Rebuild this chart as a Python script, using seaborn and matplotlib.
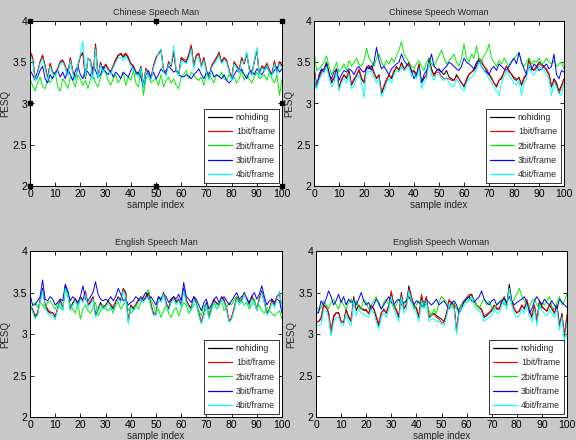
import numpy as np
import pandas as pd
import matplotlib
matplotlib.use("Agg")
import matplotlib.pyplot as plt
import seaborn as sns

sample_index = list(range(0, 101))
series_names = ["nohiding", "1bit/frame", "2bit/frame", "3bit/frame", "4bit/frame"]
panel_titles = ["Chinese Speech Man", "Chinese Speech Woman", "English Speech Man", "English Speech Woman"]
x_ticks = [0, 10, 20, 30, 40, 50, 60, 70, 80, 90, 100]
y_ticks = [2, 2.5, 3, 3.5, 4]
y_tick_labels = ["2", "2.5", "3", "3.5", "4"]

# ---- Chinese Speech Man ----
cm_nohiding = [3.63,3.55,3.30,3.38,3.50,3.58,3.45,3.30,3.48,3.38,
    3.35,3.42,3.50,3.52,3.45,3.35,3.55,3.38,3.30,3.45,
    3.58,3.62,3.30,3.55,3.52,3.30,3.72,3.32,3.50,3.40,
    3.47,3.42,3.38,3.45,3.52,3.58,3.60,3.56,3.60,3.55,
    3.48,3.45,3.38,3.35,3.45,3.22,3.42,3.35,3.30,3.45,
    3.55,3.60,3.65,3.40,3.35,3.50,3.45,3.62,3.40,3.35,
    3.55,3.52,3.50,3.58,3.70,3.45,3.58,3.60,3.45,3.55,
    3.40,3.30,3.45,3.50,3.55,3.62,3.50,3.55,3.52,3.40,
    3.30,3.50,3.45,3.40,3.55,3.48,3.60,3.42,3.35,3.50,
    3.65,3.35,3.45,3.42,3.48,3.40,3.35,3.50,3.38,3.50,3.45]
cm_1bit = [3.64,3.57,3.31,3.38,3.51,3.59,3.46,3.31,3.49,3.37,
    3.36,3.43,3.51,3.53,3.46,3.35,3.56,3.39,3.31,3.46,
    3.57,3.60,3.31,3.54,3.53,3.31,3.70,3.33,3.49,3.41,
    3.48,3.43,3.37,3.46,3.54,3.59,3.61,3.58,3.61,3.57,
    3.49,3.46,3.39,3.36,3.44,3.21,3.43,3.36,3.31,3.46,
    3.56,3.61,3.64,3.41,3.36,3.51,3.46,3.63,3.41,3.36,
    3.56,3.54,3.52,3.60,3.71,3.46,3.59,3.61,3.46,3.56,
    3.41,3.31,3.46,3.51,3.56,3.61,3.51,3.56,3.53,3.41,
    3.31,3.51,3.46,3.41,3.56,3.49,3.61,3.43,3.36,3.51,
    3.64,3.36,3.46,3.43,3.49,3.41,3.36,3.52,3.39,3.51,3.46]
cm_2bit = [3.30,3.22,3.15,3.25,3.32,3.20,3.18,3.30,3.25,3.32,
    3.38,3.20,3.15,3.30,3.25,3.18,3.32,3.28,3.20,3.35,
    3.30,3.22,3.28,3.18,3.30,3.35,3.25,3.20,3.32,3.40,
    3.38,3.28,3.22,3.30,3.35,3.25,3.30,3.38,3.22,3.32,
    3.28,3.40,3.25,3.20,3.42,3.10,3.30,3.35,3.25,3.28,
    3.30,3.22,3.35,3.20,3.28,3.32,3.25,3.30,3.22,3.18,
    3.32,3.35,3.40,3.30,3.38,3.35,3.30,3.28,3.32,3.22,
    3.35,3.38,3.30,3.25,3.35,3.32,3.38,3.30,3.28,3.35,
    3.30,3.32,3.25,3.30,3.40,3.28,3.35,3.30,3.25,3.32,
    3.38,3.30,3.32,3.35,3.28,3.38,3.30,3.25,3.35,3.10,3.30]
cm_3bit = [3.40,3.35,3.28,3.32,3.40,3.45,3.30,3.25,3.35,3.30,
    3.38,3.40,3.32,3.38,3.30,3.42,3.35,3.28,3.40,3.45,
    3.35,3.30,3.42,3.38,3.33,3.45,3.40,3.32,3.35,3.45,
    3.38,3.35,3.40,3.32,3.38,3.35,3.30,3.38,3.35,3.32,
    3.40,3.45,3.35,3.38,3.32,3.20,3.35,3.40,3.32,3.38,
    3.30,3.35,3.42,3.38,3.40,3.45,3.42,3.38,3.40,3.35,
    3.33,3.32,3.35,3.33,3.30,3.35,3.38,3.42,3.35,3.30,
    3.38,3.35,3.40,3.32,3.35,3.33,3.30,3.35,3.28,3.25,
    3.28,3.35,3.40,3.38,3.42,3.35,3.30,3.38,3.40,3.35,
    3.42,3.38,3.35,3.40,3.45,3.38,3.35,3.40,3.45,3.38,3.42]
cm_4bit = [3.60,3.52,3.28,3.36,3.48,3.55,3.42,3.28,3.45,3.36,
    3.33,3.40,3.48,3.50,3.43,3.33,3.52,3.36,3.28,3.48,
    3.60,3.76,3.32,3.56,3.50,3.28,3.66,3.30,3.47,3.38,
    3.44,3.40,3.35,3.43,3.50,3.55,3.56,3.52,3.57,3.52,
    3.45,3.42,3.36,3.33,3.43,3.20,3.40,3.33,3.28,3.43,
    3.52,3.62,3.66,3.38,3.33,3.48,3.47,3.70,3.42,3.33,
    3.52,3.50,3.48,3.55,3.66,3.42,3.55,3.56,3.43,3.52,
    3.38,3.28,3.43,3.48,3.52,3.58,3.48,3.52,3.50,3.38,
    3.28,3.48,3.43,3.38,3.52,3.50,3.63,3.40,3.33,3.52,
    3.68,3.33,3.43,3.40,3.46,3.38,3.33,3.48,3.36,3.48,3.43]

# ---- Chinese Speech Woman ----
cw_nohiding = [3.45,3.22,3.32,3.40,3.42,3.50,3.38,3.25,3.30,3.42,
    3.20,3.28,3.35,3.30,3.40,3.22,3.28,3.35,3.40,3.30,
    3.25,3.45,3.42,3.46,3.38,3.30,3.35,3.12,3.20,3.28,
    3.35,3.30,3.38,3.45,3.40,3.50,3.42,3.45,3.50,3.38,
    3.40,3.35,3.48,3.25,3.30,3.35,3.55,3.42,3.35,3.40,
    3.42,3.38,3.35,3.40,3.32,3.30,3.28,3.35,3.30,3.25,
    3.20,3.28,3.35,3.38,3.40,3.45,3.55,3.50,3.45,3.40,
    3.35,3.30,3.25,3.20,3.28,3.30,3.38,3.45,3.40,3.35,
    3.30,3.28,3.32,3.22,3.30,3.35,3.55,3.42,3.40,3.45,
    3.50,3.48,3.45,3.40,3.35,3.20,3.30,3.25,3.15,3.22,3.30]
cw_1bit = [3.42,3.24,3.30,3.38,3.42,3.48,3.36,3.27,3.32,3.40,
    3.18,3.30,3.33,3.32,3.38,3.24,3.30,3.33,3.42,3.32,
    3.26,3.45,3.46,3.44,3.36,3.32,3.33,3.14,3.22,3.30,
    3.33,3.32,3.40,3.43,3.42,3.48,3.40,3.47,3.48,3.40,
    3.38,3.33,3.46,3.27,3.32,3.33,3.52,3.40,3.33,3.38,
    3.38,3.33,3.30,3.30,3.30,3.28,3.28,3.33,3.30,3.24,
    3.22,3.30,3.36,3.38,3.42,3.48,3.55,3.52,3.45,3.42,
    3.36,3.32,3.24,3.22,3.28,3.32,3.38,3.46,3.38,3.36,
    3.32,3.30,3.30,3.24,3.32,3.36,3.52,3.44,3.40,3.43,
    3.48,3.46,3.44,3.42,3.36,3.22,3.28,3.22,3.12,3.20,3.30]
cw_2bit = [3.65,3.40,3.42,3.45,3.50,3.58,3.45,3.35,3.42,3.50,
    3.38,3.42,3.48,3.40,3.52,3.45,3.50,3.55,3.48,3.45,
    3.52,3.67,3.55,3.50,3.45,3.55,3.60,3.50,3.45,3.52,
    3.48,3.55,3.50,3.58,3.65,3.75,3.60,3.55,3.50,3.45,
    3.42,3.48,3.52,3.45,3.40,3.50,3.55,3.48,3.45,3.52,
    3.58,3.65,3.55,3.48,3.52,3.55,3.60,3.50,3.45,3.55,
    3.72,3.55,3.50,3.60,3.55,3.70,3.55,3.50,3.58,3.62,
    3.72,3.55,3.50,3.45,3.52,3.48,3.55,3.50,3.45,3.52,
    3.55,3.58,3.62,3.50,3.45,3.50,3.55,3.48,3.52,3.50,
    3.55,3.48,3.50,3.55,3.50,3.48,3.52,3.45,3.48,3.50,3.42]
cw_3bit = [3.30,3.18,3.35,3.42,3.38,3.48,3.35,3.30,3.38,3.42,
    3.28,3.35,3.40,3.38,3.42,3.40,3.35,3.42,3.45,3.40,
    3.38,3.42,3.45,3.40,3.50,3.68,3.52,3.42,3.45,3.40,
    3.35,3.42,3.45,3.48,3.50,3.60,3.52,3.48,3.45,3.40,
    3.30,3.35,3.42,3.25,3.35,3.40,3.48,3.60,3.45,3.42,
    3.40,3.38,3.42,3.45,3.50,3.48,3.45,3.42,3.40,3.45,
    3.55,3.50,3.48,3.45,3.42,3.50,3.52,3.45,3.40,3.38,
    3.35,3.42,3.45,3.40,3.48,3.45,3.42,3.40,3.45,3.50,
    3.55,3.48,3.62,3.50,3.42,3.35,3.45,3.40,3.48,3.45,
    3.40,3.42,3.45,3.48,3.42,3.45,3.60,3.35,3.30,3.40,3.38]
cw_4bit = [3.40,3.18,3.28,3.35,3.38,3.45,3.32,3.20,3.25,3.38,
    3.15,3.25,3.30,3.25,3.35,3.18,3.22,3.30,3.35,3.25,
    3.07,3.40,3.38,3.40,3.32,3.25,3.30,3.08,3.15,3.25,
    3.30,3.25,3.35,3.40,3.38,3.45,3.40,3.42,3.45,3.32,
    3.35,3.30,3.42,3.18,3.25,3.30,3.50,3.35,3.28,3.35,
    3.35,3.30,3.28,3.32,3.25,3.22,3.20,3.30,3.25,3.18,
    3.15,3.25,3.30,3.32,3.35,3.42,3.50,3.45,3.40,3.35,
    3.30,3.25,3.20,3.15,3.10,3.25,3.32,3.40,3.35,3.30,
    3.25,3.22,3.28,3.10,3.25,3.30,3.48,3.38,3.35,3.40,
    3.45,3.42,3.40,3.35,3.30,3.10,3.25,3.20,3.12,3.10,3.25]

# ---- English Speech Man ----
em_nohiding = [3.35,3.30,3.22,3.25,3.40,3.55,3.35,3.28,3.25,3.26,
    3.20,3.32,3.40,3.30,3.58,3.50,3.30,3.38,3.42,3.35,
    3.45,3.40,3.50,3.35,3.38,3.45,3.22,3.30,3.38,3.32,
    3.35,3.40,3.35,3.30,3.38,3.45,3.40,3.55,3.50,3.15,
    3.35,3.30,3.35,3.40,3.45,3.40,3.45,3.50,3.35,3.25,
    3.25,3.45,3.40,3.50,3.38,3.30,3.40,3.45,3.38,3.42,
    3.35,3.55,3.40,3.35,3.30,3.45,3.38,3.25,3.13,3.25,
    3.38,3.20,3.30,3.40,3.38,3.35,3.45,3.40,3.30,3.15,
    3.20,3.30,3.45,3.38,3.40,3.50,3.42,3.35,3.45,3.40,
    3.30,3.42,3.52,3.40,3.25,3.30,3.40,3.35,3.45,3.50,3.30]
em_1bit = [3.34,3.28,3.20,3.24,3.42,3.53,3.36,3.30,3.27,3.25,
    3.22,3.30,3.42,3.31,3.57,3.48,3.32,3.36,3.43,3.34,
    3.44,3.42,3.52,3.36,3.40,3.44,3.24,3.28,3.36,3.34,
    3.34,3.38,3.36,3.32,3.40,3.44,3.42,3.54,3.48,3.17,
    3.34,3.32,3.36,3.42,3.44,3.42,3.44,3.48,3.36,3.24,
    3.24,3.44,3.42,3.48,3.36,3.32,3.42,3.44,3.40,3.40,
    3.36,3.53,3.42,3.34,3.32,3.44,3.36,3.24,3.15,3.24,
    3.36,3.22,3.32,3.42,3.36,3.36,3.44,3.42,3.32,3.16,
    3.20,3.32,3.44,3.40,3.42,3.48,3.44,3.36,3.46,3.38,
    3.28,3.44,3.50,3.38,3.26,3.30,3.42,3.36,3.46,3.48,3.32]
em_2bit = [3.28,3.35,3.38,3.32,3.38,3.35,3.30,3.38,3.40,3.35,
    3.30,3.38,3.32,3.28,3.55,3.45,3.35,3.30,3.25,3.38,
    3.18,3.30,3.35,3.28,3.25,3.32,3.38,3.22,3.28,3.35,
    3.30,3.28,3.32,3.25,3.35,3.38,3.30,3.35,3.40,3.30,
    3.25,3.28,3.35,3.30,3.38,3.45,3.50,3.53,3.40,3.35,
    3.25,3.30,3.20,3.28,3.35,3.25,3.20,3.28,3.32,3.22,
    3.30,3.38,3.35,3.25,3.30,3.35,3.38,3.28,3.22,3.35,
    3.30,3.25,3.32,3.38,3.30,3.35,3.40,3.28,3.32,3.38,
    3.35,3.42,3.45,3.38,3.40,3.35,3.38,3.30,3.35,3.42,
    3.30,3.35,3.28,3.25,3.32,3.28,3.25,3.22,3.25,3.28,3.18]
em_3bit = [3.48,3.35,3.35,3.40,3.45,3.65,3.42,3.40,3.45,3.42,
    3.35,3.38,3.42,3.40,3.60,3.52,3.40,3.45,3.42,3.38,
    3.45,3.58,3.42,3.40,3.45,3.50,3.63,3.48,3.42,3.40,
    3.42,3.40,3.45,3.40,3.45,3.55,3.48,3.40,3.42,3.35,
    3.38,3.40,3.45,3.42,3.40,3.45,3.50,3.42,3.45,3.40,
    3.35,3.45,3.42,3.48,3.45,3.38,3.42,3.45,3.42,3.48,
    3.40,3.62,3.45,3.42,3.38,3.45,3.42,3.35,3.28,3.38,
    3.42,3.30,3.35,3.42,3.45,3.38,3.42,3.45,3.40,3.35,
    3.40,3.45,3.50,3.42,3.45,3.48,3.42,3.38,3.45,3.50,
    3.42,3.48,3.58,3.45,3.35,3.40,3.42,3.38,3.42,3.40,3.25]
em_4bit = [3.32,3.28,3.18,3.22,3.38,3.52,3.32,3.25,3.22,3.22,
    3.17,3.30,3.38,3.28,3.55,3.48,3.28,3.35,3.40,3.32,
    3.42,3.38,3.48,3.32,3.35,3.42,3.20,3.28,3.35,3.30,
    3.32,3.38,3.32,3.28,3.35,3.42,3.38,3.52,3.45,3.12,
    3.32,3.28,3.32,3.38,3.42,3.38,3.42,3.45,3.32,3.22,
    3.22,3.42,3.38,3.48,3.35,3.28,3.38,3.42,3.35,3.40,
    3.32,3.52,3.38,3.32,3.28,3.42,3.35,3.22,3.12,3.22,
    3.35,3.18,3.28,3.38,3.35,3.32,3.42,3.38,3.28,3.14,
    3.18,3.28,3.42,3.35,3.38,3.48,3.40,3.32,3.42,3.38,
    3.28,3.40,3.50,3.38,3.22,3.28,3.38,3.32,3.42,3.52,3.30]

# ---- English Speech Woman ----
ew_nohiding = [3.15,3.15,3.18,3.35,3.33,3.25,3.00,3.20,3.25,3.26,
    3.15,3.14,3.30,3.20,3.15,3.45,3.28,3.35,3.30,3.30,
    3.28,3.25,3.35,3.30,3.20,3.10,3.25,3.30,3.25,3.35,
    3.50,3.35,3.28,3.20,3.50,3.30,3.35,3.58,3.45,3.35,
    3.30,3.20,3.45,3.35,3.45,3.20,3.22,3.25,3.22,3.20,
    3.18,3.15,3.25,3.40,3.38,3.35,3.02,3.30,3.35,3.38,
    3.42,3.45,3.48,3.40,3.35,3.32,3.30,3.20,3.22,3.25,
    3.28,3.35,3.30,3.30,3.38,3.45,3.35,3.60,3.40,3.30,
    3.25,3.28,3.35,3.30,3.40,3.28,3.20,3.35,3.15,3.40,
    3.32,3.30,3.28,3.35,3.30,3.25,3.35,3.10,3.25,2.95,3.20]
ew_1bit = [3.14,3.15,3.20,3.34,3.32,3.27,3.05,3.22,3.26,3.25,
    3.16,3.13,3.28,3.22,3.17,3.42,3.30,3.34,3.31,3.28,
    3.30,3.24,3.34,3.31,3.22,3.12,3.26,3.28,3.27,3.33,
    3.52,3.34,3.30,3.22,3.48,3.31,3.36,3.55,3.44,3.34,
    3.32,3.22,3.48,3.34,3.44,3.22,3.24,3.24,3.20,3.18,
    3.14,3.13,3.24,3.42,3.36,3.34,3.05,3.28,3.36,3.40,
    3.44,3.48,3.46,3.40,3.34,3.33,3.28,3.22,3.24,3.26,
    3.30,3.34,3.32,3.30,3.40,3.44,3.36,3.55,3.38,3.30,
    3.26,3.27,3.34,3.31,3.42,3.30,3.22,3.34,3.17,3.38,
    3.34,3.30,3.27,3.36,3.32,3.26,3.34,3.12,3.22,3.00,3.24]
ew_2bit = [3.35,3.28,3.32,3.40,3.35,3.30,3.38,3.42,3.35,3.30,
    3.40,3.35,3.30,3.38,3.42,3.35,3.40,3.32,3.30,3.42,
    3.38,3.30,3.35,3.40,3.45,3.35,3.30,3.38,3.42,3.35,
    3.40,3.30,3.35,3.42,3.38,3.35,3.40,3.45,3.38,3.30,
    3.35,3.40,3.32,3.38,3.35,3.28,3.22,3.30,3.25,3.38,
    3.45,3.42,3.38,3.35,3.32,3.38,3.30,3.28,3.35,3.40,
    3.38,3.42,3.45,3.40,3.35,3.30,3.38,3.42,3.35,3.40,
    3.32,3.30,3.35,3.38,3.42,3.35,3.40,3.45,3.38,3.42,
    3.48,3.55,3.45,3.40,3.35,3.32,3.40,3.42,3.35,3.30,
    3.38,3.35,3.40,3.45,3.32,3.30,3.38,3.45,3.35,3.40,3.48]
ew_3bit = [3.28,3.25,3.40,3.35,3.42,3.52,3.45,3.35,3.40,3.48,
    3.38,3.45,3.35,3.42,3.38,3.40,3.35,3.42,3.50,3.40,
    3.35,3.38,3.30,3.35,3.42,3.38,3.30,3.35,3.40,3.45,
    3.38,3.35,3.40,3.42,3.35,3.38,3.40,3.45,3.40,3.35,
    3.40,3.38,3.35,3.32,3.40,3.38,3.35,3.38,3.42,3.35,
    3.38,3.40,3.35,3.30,3.38,3.40,3.35,3.25,3.30,3.40,
    3.42,3.45,3.40,3.38,3.42,3.45,3.52,3.42,3.38,3.35,
    3.40,3.42,3.35,3.38,3.40,3.42,3.38,3.45,3.40,3.35,
    3.38,3.40,3.42,3.45,3.38,3.25,3.30,3.40,3.45,3.40,
    3.35,3.42,3.38,3.35,3.40,3.35,3.30,3.42,3.38,3.35,3.32]
ew_4bit = [3.10,3.10,3.12,3.28,3.28,3.20,2.98,3.15,3.20,3.20,
    3.12,3.10,3.25,3.15,3.10,3.40,3.22,3.30,3.25,3.25,
    3.22,3.20,3.30,3.25,3.15,3.06,3.20,3.25,3.20,3.30,
    3.45,3.30,3.22,3.15,3.45,3.25,3.30,3.52,3.40,3.30,
    3.25,3.15,3.40,3.30,3.40,3.15,3.18,3.18,3.15,3.15,
    3.12,3.10,3.20,3.35,3.32,3.30,3.00,3.25,3.30,3.35,
    3.38,3.40,3.45,3.35,3.30,3.28,3.25,3.15,3.18,3.20,
    3.22,3.30,3.25,3.25,3.35,3.40,3.30,3.55,3.35,3.25,
    3.20,3.22,3.30,3.25,3.35,3.22,3.15,3.30,3.10,3.35,
    3.28,3.25,3.22,3.30,3.25,3.20,3.30,3.05,3.20,2.90,3.15]

panel_data = {
    "Chinese Speech Man": [cm_nohiding, cm_1bit, cm_2bit, cm_3bit, cm_4bit],
    "Chinese Speech Woman": [cw_nohiding, cw_1bit, cw_2bit, cw_3bit, cw_4bit],
    "English Speech Man": [em_nohiding, em_1bit, em_2bit, em_3bit, em_4bit],
    "English Speech Woman": [ew_nohiding, ew_1bit, ew_2bit, ew_3bit, ew_4bit],
}

rows = []
for title, series_list in panel_data.items():
    for name, vals in zip(series_names, series_list):
        n = min(len(vals), len(sample_index))
        for i in range(n):
            rows.append((title, name, sample_index[i], vals[i]))
df = pd.DataFrame(rows, columns=["panel", "series", "sample", "PESQ"])

sns.set_style("ticks")
plt.rcParams["font.family"] = ["Liberation Sans", "DejaVu Sans"]

palette = {"nohiding": "#000000", "1bit/frame": "#ff0000", "2bit/frame": "#00ee00",
           "3bit/frame": "#0000ff", "4bit/frame": "#00ffff"}

W, H = 576, 440
fig = plt.figure(figsize=(W / 100, H / 100), dpi=100)
fig.patch.set_facecolor("#c8c8c8")

boxes = [(30, 21, 282, 186), (314, 21, 564, 186), (30, 251, 282, 417), (316, 251, 567, 417)]

for (x0, y0, x1, y1), title in zip(boxes, panel_titles):
    ax = fig.add_axes([x0 / W, 1 - y1 / H, (x1 - x0) / W, (y1 - y0) / H])
    sub = df[df["panel"] == title]
    sns.lineplot(data=sub, x="sample", y="PESQ", hue="series", hue_order=series_names,
                 palette=palette, estimator=None, linewidth=0.7, ax=ax, legend=False)
    ax.set_facecolor("white")
    ax.set_xlim(0, 100)
    ax.set_ylim(2, 4)
    ax.set_xticks(x_ticks)
    ax.set_xticklabels([str(t) for t in x_ticks])
    ax.set_yticks(y_ticks)
    ax.set_yticklabels(y_tick_labels)
    ax.tick_params(direction="in", top=True, right=True, length=3, width=0.6,
                   labelsize=7.5, pad=2, colors="black")
    for s in ax.spines.values():
        s.set_color("black")
        s.set_linewidth(0.7)
    ax.set_title(title, fontsize=6.5, pad=4)
    ax.set_xlabel("sample index", fontsize=7, labelpad=1)
    ax.set_ylabel("PESQ", fontsize=7, labelpad=2)
    handles = [plt.Line2D([0], [0], color=palette[n], lw=0.9) for n in series_names]
    leg = ax.legend(handles, series_names, loc="lower right", fontsize=6.3,
                    frameon=True, fancybox=False, borderaxespad=0.3,
                    handlelength=2.8, handletextpad=0.4, labelspacing=0.6,
                    borderpad=0.5)
    leg.get_frame().set_edgecolor("black")
    leg.get_frame().set_linewidth(0.7)
    if title == "Chinese Speech Man":
        for fx, fy in [(0, 0), (0.5, 0), (1, 0), (0, 0.5), (1, 0.5), (0, 1), (0.5, 1), (1, 1)]:
            ax.plot(fx, fy, marker="s", markersize=3.5, color="black",
                    transform=ax.transAxes, clip_on=False)

fig.savefig("out.png", dpi=100, facecolor=fig.get_facecolor())

for title, series_list in panel_data.items():
    for name, vals in zip(series_names, series_list):
        assert len(vals) == 101, (title, name, len(vals))
